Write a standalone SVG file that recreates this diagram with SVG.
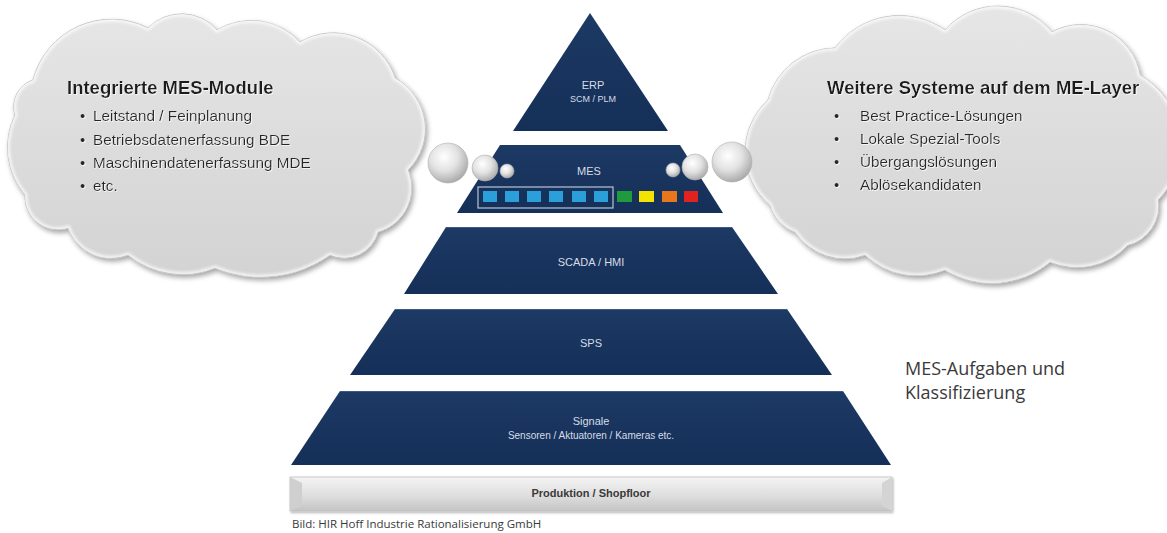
<svg xmlns="http://www.w3.org/2000/svg" width="1167" height="533" viewBox="0 0 1167 533">
  <defs>
    <linearGradient id="navy" x1="0" y1="0" x2="0" y2="1">
      <stop offset="0" stop-color="#1d3a64"/>
      <stop offset="1" stop-color="#142f58"/>
    </linearGradient>
    <linearGradient id="cloudFill" x1="0" y1="0" x2="0" y2="1">
      <stop offset="0" stop-color="#e6e6e6"/>
      <stop offset="0.5" stop-color="#dcdcdc"/>
      <stop offset="1" stop-color="#d3d3d3"/>
    </linearGradient>
    <linearGradient id="baseFill" x1="0" y1="0" x2="0" y2="1">
      <stop offset="0" stop-color="#f4f4f4"/>
      <stop offset="0.55" stop-color="#dedede"/>
      <stop offset="1" stop-color="#c4c4c4"/>
    </linearGradient>
    <radialGradient id="ball" cx="0.4" cy="0.35" r="0.7">
      <stop offset="0" stop-color="#ffffff"/>
      <stop offset="0.5" stop-color="#e2e2e2"/>
      <stop offset="1" stop-color="#a4a4a4"/>
    </radialGradient>
    <filter id="cloudShadow" x="-10%" y="-10%" width="125%" height="130%">
      <feDropShadow dx="2" dy="3" stdDeviation="2.5" flood-color="#000" flood-opacity="0.35"/>
    </filter>
    <filter id="softShadow" x="-10%" y="-10%" width="120%" height="130%">
      <feDropShadow dx="1" dy="1.5" stdDeviation="1.2" flood-color="#000" flood-opacity="0.3"/>
    </filter>
    <filter id="textGlow" x="-5%" y="-20%" width="110%" height="140%">
      <feDropShadow dx="0.8" dy="0.8" stdDeviation="0.6" flood-color="#ffffff" flood-opacity="0.9"/>
    </filter>
    <filter id="rimBlur">
      <feGaussianBlur stdDeviation="1.5"/>
    </filter>
    <path id="leftOutline" d="M33,80 A81,81 0 0 1 148,28 A47,47 0 0 1 217,30 A66,66 0 0 1 300,42 A65,65 0 0 1 395,78 A58,58 0 0 1 408,170 A46,46 0 0 1 378,232 A35,35 0 0 1 330,255 A120,120 0 0 1 215,268 A87,87 0 0 1 128,255 A46,46 0 0 1 68,228 A33,33 0 0 1 25,195 A74,74 0 0 1 15,115 A28,28 0 0 1 33,80 Z"/>
    <path id="rightOutline" d="M768,100 A70,70 0 0 1 835,48 A80,80 0 0 1 945,30 A70,70 0 0 1 1052,32 A60,60 0 0 1 1140,75 A80,80 0 0 1 1158,200 A40,40 0 0 1 1128,245 A70,70 0 0 1 1050,262 A90,90 0 0 1 945,270 A75,75 0 0 1 865,255 A60,60 0 0 1 795,232 A40,40 0 0 1 770,205 A70,70 0 0 1 768,100 Z"/>
    <clipPath id="leftClip"><use href="#leftOutline"/></clipPath>
    <clipPath id="rightClip"><use href="#rightOutline"/></clipPath>
  </defs>
  <style>
    .cloud { fill: url(#cloudFill); stroke: #b8b8b8; stroke-width: 1; filter: url(#cloudShadow); }
    .rim { fill: none; stroke: #ffffff; stroke-width: 5; opacity: 0.75; filter: url(#rimBlur); }
    .layer { fill: url(#navy); }
    .edge { fill: none; stroke: #4a6790; stroke-width: 1; opacity: 0.7; }
    .ctitle { font-family: "Liberation Sans", Arial, sans-serif; font-size: 18.5px; font-weight: bold; fill: #1a1a1a; filter: url(#textGlow); }
    .citem { font-family: "Liberation Sans", Arial, sans-serif; font-size: 15.3px; fill: #262626; filter: url(#textGlow); }
    .lbl { font-family: "Liberation Sans", Arial, sans-serif; font-size: 11px; fill: #d6dce6; text-anchor: middle; }
    .sub { font-family: "Liberation Sans", Arial, sans-serif; font-size: 9px; fill: #d6dce6; text-anchor: middle; }
    .sub.wide { font-size: 10px; }
    .ball { fill: url(#ball); stroke: #b0b0b0; stroke-width: 0.6; }
    .mod { fill: #2a9fd9; }
    .note { font-family: "Open Sans", "Liberation Sans", sans-serif; font-size: 18px; fill: #3a3a3a; }
    .credit { font-family: "Open Sans", "Liberation Sans", sans-serif; font-size: 11.5px; fill: #3a3a3a; }
  </style>

  <!-- left cloud: integrated modules -->
  <g id="cloud-left">
    <use class="cloud" href="#leftOutline"/>
    <use class="rim" href="#leftOutline" clip-path="url(#leftClip)"/>
    <text class="ctitle" x="67" y="94">Integrierte MES-Module</text>
    <g class="citem">
      <text x="80" y="121">•</text><text x="93" y="121">Leitstand / Feinplanung</text>
      <text x="80" y="145">•</text><text x="93" y="145">Betriebsdatenerfassung BDE</text>
      <text x="80" y="168">•</text><text x="93" y="168">Maschinendatenerfassung MDE</text>
      <text x="80" y="191">•</text><text x="93" y="191">etc.</text>
    </g>
  </g>

  <!-- right cloud: further systems on the ME layer -->
  <g id="cloud-right">
    <use class="cloud" href="#rightOutline"/>
    <use class="rim" href="#rightOutline" clip-path="url(#rightClip)"/>
    <text class="ctitle" x="827" y="94">Weitere Systeme auf dem ME-Layer</text>
    <g class="citem">
      <text x="834" y="121">•</text><text x="860" y="121">Best Practice-Lösungen</text>
      <text x="834" y="144">•</text><text x="860" y="144">Lokale Spezial-Tools</text>
      <text x="834" y="167">•</text><text x="860" y="167">Übergangslösungen</text>
      <text x="834" y="190">•</text><text x="860" y="190">Ablösekandidaten</text>
    </g>
  </g>

  <!-- pyramid layers -->
  <g id="layer-erp">
    <polygon class="layer" points="590,13 668,131 513,131"/>
    <text class="lbl" x="593" y="89">ERP</text>
    <text class="sub" x="593" y="102">SCM / PLM</text>
  </g>

  <g id="layer-mes">
    <polygon class="layer" points="500,145 680,145 723,213 457,213"/>
    <text class="lbl" x="589" y="175">MES</text>
    <rect x="478" y="187" width="135" height="21" fill="none" stroke="#b9c4d4" stroke-width="1.2"/>
    <rect class="mod" x="483" y="191" width="14" height="11"/>
    <rect class="mod" x="505" y="191" width="14" height="11"/>
    <rect class="mod" x="527" y="191" width="14" height="11"/>
    <rect class="mod" x="549" y="191" width="14" height="11"/>
    <rect class="mod" x="572" y="191" width="14" height="11"/>
    <rect class="mod" x="594" y="191" width="14" height="11"/>
    <rect x="617" y="191" width="15" height="11" fill="#1f9a3c"/>
    <rect x="639" y="191" width="15" height="11" fill="#f4e300"/>
    <rect x="662" y="191" width="15" height="11" fill="#e8761c"/>
    <rect x="684" y="191" width="14" height="11" fill="#e0231e"/>
  </g>

  <g id="layer-scada">
    <polygon class="layer" points="446,227 732,227 778,294 404,294"/>
    <line class="edge" x1="446" y1="227.5" x2="732" y2="227.5"/>
    <text class="lbl" x="591" y="266">SCADA / HMI</text>
  </g>

  <g id="layer-sps">
    <polygon class="layer" points="395,309 787,309 832,375 350,375"/>
    <line class="edge" x1="395" y1="309.5" x2="787" y2="309.5"/>
    <text class="lbl" x="591" y="347">SPS</text>
  </g>

  <g id="layer-signale">
    <polygon class="layer" points="340,391 843,391 891,465 291,465"/>
    <line class="edge" x1="340" y1="391.5" x2="843" y2="391.5"/>
    <text class="lbl" x="591" y="425">Signale</text>
    <text class="sub wide" x="591" y="439">Sensoren / Aktuatoren / Kameras etc.</text>
  </g>

  <!-- shop floor base plate -->
  <g id="base-produktion">
    <rect x="290" y="477" width="602" height="34" fill="url(#baseFill)" stroke="#bdbdbd" stroke-width="0.8" filter="url(#softShadow)"/>
    <polygon points="290,477 302,483 302,506 290,511" fill="#cfcfcf"/>
    <polygon points="892,477 882,483 882,506 892,511" fill="#d4d4d4"/>
    <text x="591" y="497" font-family="Liberation Sans, Arial, sans-serif" font-size="11" font-weight="bold" fill="#3a3a3a" text-anchor="middle">Produktion / Shopfloor</text>
  </g>

  <!-- sphere chains linking the clouds to the MES layer -->
  <g id="connectors">
    <circle class="ball" cx="448" cy="163" r="20"/>
    <circle class="ball" cx="485" cy="168" r="13"/>
    <circle class="ball" cx="507" cy="171" r="7"/>
    <circle class="ball" cx="732" cy="162" r="20"/>
    <circle class="ball" cx="695" cy="167" r="13"/>
    <circle class="ball" cx="673" cy="170" r="7"/>
  </g>

  <g id="caption">
    <text class="note" x="905" y="375">MES-Aufgaben und</text>
    <text class="note" x="905" y="399">Klassifizierung</text>
  </g>

  <g id="credit">
    <text class="credit" x="292" y="528">Bild: HIR Hoff Industrie Rationalisierung GmbH</text>
  </g>
</svg>
